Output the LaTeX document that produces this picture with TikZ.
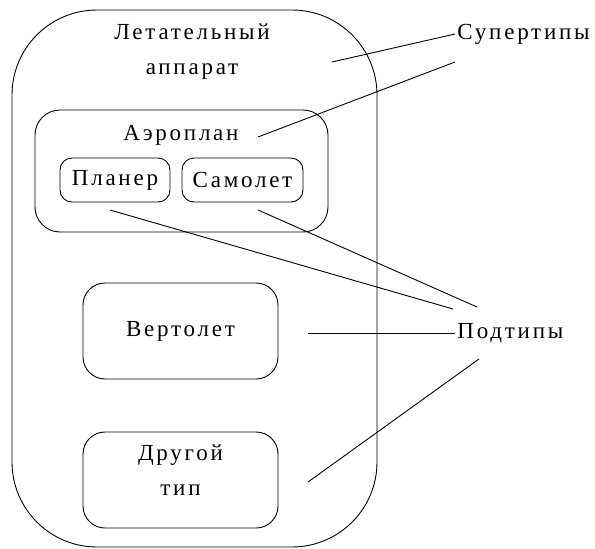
\documentclass[tikz,border=0pt]{standalone}
\usepackage{fontspec}
\setmainfont{Liberation Serif}[LetterSpace=12]

\begin{document}
\begin{tikzpicture}[x=1pt,y=-1pt,line width=0.9pt,
    font=\fontsize{23}{35}\selectfont]

      \useasboundingbox (0,0) rectangle (595,549);

      \begin{scope}[every node/.style={draw,inner sep=0pt}]
        \node[minimum width=365pt,minimum height=537pt,rounded corners=85pt] (la)  at (194.5,278.5) {};
        \node[minimum width=293pt,minimum height=122pt,rounded corners=25pt] (aero) at (181.5,171) {};
        \node[minimum width=110pt,minimum height=44pt,rounded corners=12pt] (glider) at (115,180) {Планер};
        \node[minimum width=121pt,minimum height=44pt,rounded corners=12pt] (plane)  at (242.5,180) {Самолет};
        \node[minimum width=195pt,minimum height=96pt,rounded corners=22pt] (heli)   at (180.5,331) {Вертолет};
        \node[minimum width=195pt,minimum height=96pt,rounded corners=22pt] (other)  at (180.5,480) {};
      \end{scope}

      \begin{scope}[every node/.style={inner sep=2pt}]
        \node[align=center] (latitle) at (192,52) {Летательный\\аппарат};
        \node (aerotitle) at (181,135) {Аэроплан};
        \node[align=center] (othertitle) at (180.5,470) {Другой\\тип};
        \node[anchor=west] (super) at (455,34) {Супертипы};
        \node[anchor=west] (sub)   at (455,333) {Подтипы};
      \end{scope}

      % free ends of the connectors
      \coordinate (s1) at (332,62);
      \coordinate (s2) at (455,62);
      \coordinate (a1) at (258,137);
      \coordinate (g1) at (110,210);
      \coordinate (g2) at (453,309);
      \coordinate (p1) at (258,210);
      \coordinate (p2) at (477,307);
      \coordinate (h1) at (308,333);
      \coordinate (o1) at (308,482);
      \coordinate (o2) at (479,359);

      \path (s1) edge[draw] (super.west);
      \path (a1) edge[draw] (s2);
      \path (g1) edge[draw] (g2);
      \path (p1) edge[draw] (p2);
      \path (h1) edge[draw] (sub.west);
      \path (o1) edge[draw] (o2);

    \end{tikzpicture}
\end{document}
